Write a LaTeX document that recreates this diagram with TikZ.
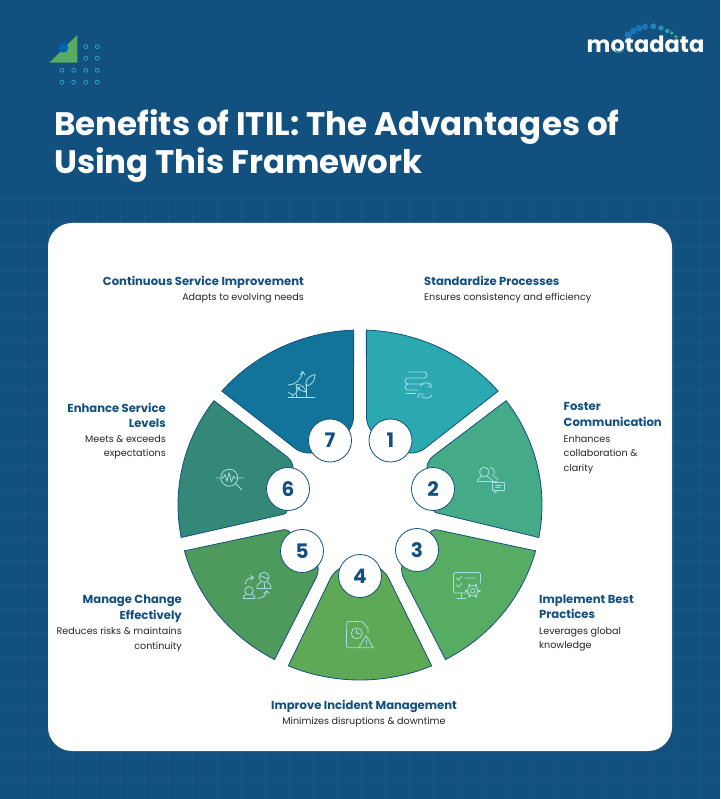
\documentclass[tikz,border=0pt]{standalone}
\usepackage{fontspec}
\setmainfont{Poppins}
\usepackage{xcolor}
\usetikzlibrary{calc,positioning}
\definecolor{navy}{HTML}{12507F}
\definecolor{gridblue}{HTML}{1C5784}
\definecolor{iconline}{HTML}{A8DDE4}
\definecolor{segone}{HTML}{2CA9B0}
\definecolor{segtwo}{HTML}{44AA87}
\definecolor{segthree}{HTML}{57AC63}
\definecolor{segfour}{HTML}{5EA955}
\definecolor{segfive}{HTML}{4E9A5C}
\definecolor{segsix}{HTML}{348877}
\definecolor{segseven}{HTML}{12749B}
\definecolor{dotblue}{HTML}{2A9FCB}
\tikzset{
  segment/.style={draw=navy,line width=0.8pt,fill=#1},
  numdisc/.style={circle,draw=navy,line width=0.8pt,fill=white,minimum size=43pt,inner sep=0pt,
    text=navy,font=\fontsize{20}{20}\selectfont\bfseries},
  headtxt/.style={inner sep=0pt,text=navy,font=\fontsize{11.6}{15.5}\selectfont\bfseries},
  bodytxt/.style={inner sep=0pt,text=black!85,font=\fontsize{9.6}{14.6}\selectfont},
  icon/.style={draw=iconline,line width=0.8pt,line cap=round,line join=round},
  ringarc/.style={x radius=182pt,y radius=175pt},
}
\begin{document}
\begin{tikzpicture}[x=1pt,y=-1pt]
\useasboundingbox (0,0) rectangle (720,799);
\fill[navy] (0,0) rectangle (720,799);
% background grid
\foreach \k in {0,...,28}
  \draw[gridblue,line width=0.8pt] ({24.1*(\k+1)},198) -- ({24.1*(\k+1)},799);
\foreach \k in {0,...,24}
  \draw[gridblue,line width=0.8pt] (0,{198+24.2*\k}) -- (720,{198+24.2*\k});
% corner mark
\fill[segthree] (49.3,62.7) -- (77.3,35) -- (77.3,62.7) -- cycle;
\fill[blue!45!cyan!70!black] (63.3,47.7) circle (5);
\foreach \x/\y in {85.7/46.7,97.3/46.7,85.7/58.3,97.3/58.3,
  62/70.3,73.7/70.3,85.7/70.3,97.3/70.3,62/82.3,73.7/82.3,85.7/82.3,97.3/82.3}
  \draw[dotblue,line width=0.8pt] (\x,\y) circle (2);
% logo
\node[inner sep=0pt,anchor=base,text=white,font=\fontsize{22.5}{22}\selectfont\bfseries] (logo) at (645.5,52.5) {motadata};
\draw[segtwo,line width=1.5pt] (615,49.5) arc[start angle=210,end angle=320,radius=5pt];
\foreach \x/\y/\r/\c in {628.3/35/3.6/1B75B8,633.3/31/3.4/1B75B8,639/28.3/3.3/1B75B8,645/26.7/3.2/1B75B8,
  653.3/26.3/3/1F86B8,661/28/2.6/2195B5,667.3/31/2.2/2AA5A8,671.7/33/1.8/2FAE95,676/36.7/1.8/55B060}{
  \definecolor{dotc}{HTML}{\c}
  \fill[dotc] (\x,\y) circle (\r);
}
% title
\node[inner sep=0pt,anchor=north west,align=left,text=white,font=\fontsize{32.5}{38.5}\selectfont\bfseries] (title) at (54,109)
  {Benefits of ITIL: The Advantages of\\Using This Framework};
% card
\fill[white,rounded corners=24pt] (48,223) rectangle (672,751);
\coordinate (c) at (360,505);
% segments
\draw[segment=segone] (c) ++(40.6:182pt and 175pt) arc[start angle=40.6,end angle=88,ringarc]
  [rounded corners=7pt] -- (366.5,425) -- (376,436) -- (385,453) -- (419,453) [sharp corners] -- cycle;
\draw[segment=segtwo] (c) ++(36.6:182pt and 175pt) arc[start angle=36.6,end angle=-10.7,ringarc]
  [rounded corners=6pt] -- (431,511.5) -- (441,489) -- (426,472) -- (428,460) [sharp corners] -- cycle;
\draw[segment=segthree] (c) ++(-15.2:182pt and 175pt) arc[start angle=-15.2,end angle=-62,ringarc]
  [rounded corners=6pt] -- (401,573) -- (403,555) -- (425,545) -- (431,528.5) [sharp corners] -- cycle;
\draw[segment=segfour] (c) ++(-66.8:182pt and 175pt) arc[start angle=-66.8,end angle=-113.2,ringarc]
  [rounded corners=6pt] -- (333,573) -- (345,565) -- (375,565) -- (386,573) [sharp corners] -- cycle;
\draw[segment=segfive] (c) ++(242:182pt and 175pt) arc[start angle=242,end angle=195.2,ringarc]
  [rounded corners=6pt] -- (289,528.5) -- (295,545) -- (316,555) -- (319,572) [sharp corners] -- cycle;
\draw[segment=segsix] (c) ++(143.4:182pt and 175pt) arc[start angle=143.4,end angle=190.7,ringarc]
  [rounded corners=6pt] -- (289,513) -- (279,489) -- (294,472) -- (292,460.5) [sharp corners] -- cycle;
\draw[segment=segseven] (c) ++(139.4:182pt and 175pt) arc[start angle=139.4,end angle=92,ringarc]
  [rounded corners=7pt] -- (353.5,425) -- (344,436) -- (335,453) -- (301,453) [sharp corners] -- cycle;
% numbers
\node[numdisc] (num1) at (390.5,440.5) {1};
\node[numdisc] (num2) at (433,489) {2};
\node[numdisc] (num3) at (417,550) {3};
\node[numdisc] (num4) at (360,576) {4};
\node[numdisc] (num5) at (302,551) {5};
\node[numdisc] (num6) at (288,489) {6};
\node[numdisc] (num7) at (330,440.5) {7};
% icon 1
\draw[icon] (408,372) -- (424,372) arc[start angle=90,end angle=-90,radius=3pt] -- (408,378) arc[start angle=90,end angle=270,radius=3pt] -- (424,384);
\draw[icon] (408,384) arc[start angle=90,end angle=270,radius=3pt] -- (418,390);
\draw[icon] (406,393.5) -- (416,393.5);
\draw[icon] (420,386) arc[start angle=150,end angle=40,radius=6.5pt];
\draw[icon] (432,395) arc[start angle=-30,end angle=-140,radius=6.5pt];
\draw[icon] (430,383) -- (431.5,387) -- (427,387);
\draw[icon] (418,398) -- (419,394) -- (424,394);
% icon 2
\draw[icon] (484.3,472) circle (4.8);
\draw[icon] (477.3,481.7) .. controls (478,477.5) and (481,478) .. (481.5,476.5);
\draw[icon] (477.3,481.7) -- (497,481.7);
\draw[icon] (487,476.5) .. controls (488,478) and (491,477.5) .. (493,481.7);
\draw[icon] (490,467.5) arc[start angle=90,end angle=-60,radius=4.5pt];
\draw[icon] (494,476.5) .. controls (497,478) and (497,478) .. (498,480);
\draw[icon] (492.7,482) rectangle (504.5,490.5);
\draw[icon] (494.5,490.5) -- (494.8,493) -- (497.5,490.5);
\draw[icon] (495.5,485) -- (502,485) (495.5,487.5) -- (500,487.5);
% icon 3
\draw[icon] (470,593) -- (455.5,593) arc[start angle=270,end angle=180,radius=2pt] -- (453.5,574.5) arc[start angle=180,end angle=90,radius=2pt] -- (478.5,572.5) arc[start angle=90,end angle=0,radius=2pt] -- (480.5,583);
\draw[icon] (461.5,593) -- (461.5,598) (457,598) -- (466,598);
\draw[icon] (456.5,578) -- (458.5,580) -- (461.5,576.5) (456.5,585) -- (458.5,587) -- (461.5,583.5) (465,578) -- (475,578);
\draw[icon] (472.7,590.7) circle (2.2);
\draw[icon] (472.7,590.7) circle (5.5);
\foreach \a in {0,60,...,300}
  \draw[icon,line width=1.6pt] (472.7,590.7) ++(\a:5.5pt) -- ++(\a:1.8pt);
% icon 4
\draw[icon] (358,647.7) -- (348.5,647.7) arc[start angle=270,end angle=180,radius=2pt] -- (346.7,623.5) arc[start angle=180,end angle=90,radius=2pt] -- (362,621.7) -- (368,628) -- (368,633);
\draw[icon] (356.7,633.3) circle (5.5);
\draw[icon] (356.7,630) -- (356.7,633.5) -- (359.5,633.5);
\draw[icon] (366,635.5) -- (373.3,647.7) -- (358.8,647.7) -- cycle;
\draw[icon] (366,640) -- (366,643.5) (366,645.5) -- (366,645.6);
% icon 5
\draw[icon] (264,577.3) circle (5);
\draw[icon] (259.5,575.5) -- (268.5,579);
\draw[icon] (256.7,588.5) .. controls (257,583) and (260,583.5) .. (261,582) (267,582) .. controls (268,583.5) and (271,583) .. (271,588.5) -- (256.7,588.5);
\draw[icon] (264,583) -- (264,588);
\draw[icon] (249,590.7) circle (4.2);
\draw[icon] (243.3,598.5) .. controls (243.5,595) and (245,595) .. (246,594.5) (252,594.5) .. controls (253,595) and (254.5,595) .. (254.7,598.5) -- (243.3,598.5);
\draw[icon] (245.3,584) .. controls (245.5,580) and (249,577.5) .. (253,577.5);
\draw[icon] (250.5,575.5) -- (253.5,577.5) -- (251,580);
\draw[icon] (257.3,598.3) .. controls (262,598.3) and (266,596) .. (266.7,591);
\draw[icon] (264,593.5) -- (266.7,590.7) -- (269,593.5);
% icon 6
\draw[icon] (229.3,477.7) circle (8.5);
\draw[icon] (216,478) -- (223,478) -- (225,474.5) -- (227,481.5) -- (229,472.5) -- (231.5,482) -- (233.5,476) -- (235,478) -- (243.3,478);
\draw[icon] (235.5,483.5) -- (242,490);
% icon 7
\draw[icon] (288.3,397.3) -- (315,397.3);
\draw[icon] (306,384) -- (306,397.3);
\draw[icon] (306,386) .. controls (305,379) and (309,376) .. (315,374.5) .. controls (315,381) and (312,385) .. (306,386);
\draw[icon] (288,385) .. controls (295,385) and (301,380) .. (302.7,372);
\draw[icon] (300,375) -- (302.7,371.5) -- (305,375);
\draw[icon] (306,392) .. controls (305,387) and (301,384) .. (296,384.5) .. controls (296,388) and (300,391) .. (306,392);
\draw[icon] (296.5,397) .. controls (296,394) and (296,392) .. (297,390.5) .. controls (299,391) and (300,389) .. (299.5,387.5) .. controls (297,387) and (295,388) .. (297,390.5);
\draw[icon] (288.5,392.5) -- (293,395) -- (292,397) (293,395) -- (296,393);
% texts
\node[headtxt,anchor=base east] (headseven) at (304,285) {Continuous Service Improvement};
\node[bodytxt,anchor=base east] (bodyseven) at (304,300.5) {Adapts to evolving needs};
\node[headtxt,anchor=base west] (headone) at (424,285) {Standardize Processes};
\node[bodytxt,anchor=base west] (bodyone) at (424,300.5) {Ensures consistency and efficiency};
\node[headtxt,anchor=north west,align=left] (headtwo) at (563.5,402.5) {Foster\\Communication};
\node[bodytxt,anchor=north west,align=left] (bodytwo) at (563.5,435) {Enhances\\collaboration \&\\clarity};
\node[headtxt,anchor=north west,align=left] (headthree) at (539,594.5) {Implement Best\\Practices};
\node[bodytxt,anchor=north west,align=left] (bodythree) at (539,627) {Leverages global\\knowledge};
\node[headtxt,anchor=base] (headfour) at (364,709) {Improve Incident Management};
\node[bodytxt,anchor=base] (bodyfour) at (364,724) {Minimizes disruptions \& downtime};
\node[headtxt,anchor=north east,align=right] (headfive) at (182,595) {Manage Change\\Effectively};
\node[bodytxt,anchor=north east,align=right] (bodyfive) at (182,627) {Reduces risks \& maintains\\continuity};
\node[headtxt,anchor=north east,align=right] (headsix) at (166,403) {Enhance Service\\Levels};
\node[bodytxt,anchor=north east,align=right] (bodysix) at (166,435) {Meets \& exceeds\\expectations};
\end{tikzpicture}
\end{document}
